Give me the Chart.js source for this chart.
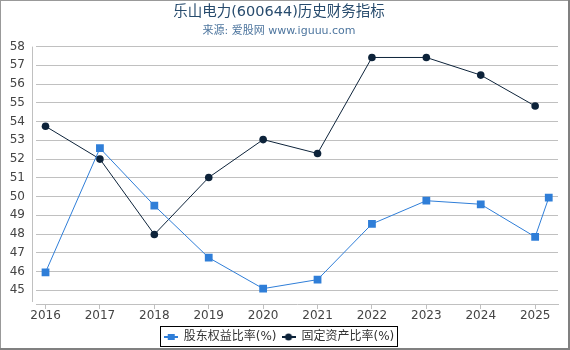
<!DOCTYPE html>
<html>
<head>
<meta charset="utf-8">
<script src="https://cdn.jsdelivr.net/npm/chart.js@4.4.1/dist/chart.umd.min.js"></script>
<style>
  html, body { margin: 0; padding: 0; background: #fff; }
  canvas { display: block; }
</style>
</head>
<body>
<canvas id="chart" width="570" height="350"></canvas>
<script>
// values
const equityYears      = [2016, 2017, 2018, 2019, 2020, 2021, 2022, 2023, 2024, 2025, 2025.25];
const equityRatio      = [45.96, 52.58, 49.52, 46.74, 45.09, 45.57, 48.54, 49.78, 49.59, 47.85, 49.94];
const fixedYears       = [2016, 2017, 2018, 2019, 2020, 2021, 2022, 2023, 2024, 2025];
const fixedAssetRatio  = [53.75, 52.00, 47.98, 51.02, 53.04, 52.30, 57.42, 57.42, 56.48, 54.83];
const xTickValues      = [2016, 2017, 2018, 2019, 2020, 2021, 2022, 2023, 2024, 2025];
const xTickLabels      = ['2016', '2017', '2018', '2019', '2020', '2021', '2022', '2023', '2024', '2025'];
const yTickValues      = [45, 46, 47, 48, 49, 50, 51, 52, 53, 54, 55, 56, 57, 58];
const seriesNames      = ['股东权益比率(%)', '固定资产比率(%)'];

const FONT      = '"DejaVu Sans", "Noto Sans CJK SC", sans-serif';
const BLUE      = '#2f7ed8';
const DARK      = '#0d233a';
const GRID      = '#c0c0c0';

const toPoints = (xs, ys) => xs.map((x, i) => ({x: x, y: ys[i]}));

// little legend icon: a line with the marker in the middle
function legendIcon(color, shape) {
    const c   = document.createElement('canvas');
    c.width   = 14;
    c.height  = 10;
    const ctx = c.getContext('2d');
    ctx.strokeStyle = color;
    ctx.lineWidth   = 2;
    ctx.beginPath();
    ctx.moveTo(0, 5);
    ctx.lineTo(14, 5);
    ctx.stroke();
    ctx.fillStyle = color;
    if (shape === 'rect') {
        ctx.fillRect(4, 2, 7, 6);
    } else {
        ctx.beginPath();
        ctx.arc(7, 5, 3.5, 0, Math.PI * 2);
        ctx.fill();
    }
    return c;
}

const icons = [legendIcon(BLUE, 'rect'), legendIcon(DARK, 'circle')];

const framePlugin = {
    id: 'frame',
    afterDraw(chart) {
        const ctx  = chart.ctx;
        const area = chart.chartArea;
        ctx.save();
        // y axis line, a bit left of the grid
        ctx.strokeStyle = GRID;
        ctx.lineWidth   = 1;
        ctx.beginPath();
        ctx.moveTo(32.5, area.top);
        ctx.lineTo(32.5, area.bottom - 2);
        ctx.stroke();
        // legend box
        const boxes = chart.legend.legendHitBoxes;
        if (boxes && boxes.length) {
            const first = boxes[0];
            const last  = boxes[boxes.length - 1];
            const left  = Math.round(first.left) - 3.5;
            const right = Math.round(last.left + last.width) + 3.5;
            const top   = 326.5;
            const bot   = 346.5;
            ctx.strokeStyle = '#000';
            ctx.strokeRect(left, top, right - left, bot - top);
        }
        // page frame
        ctx.fillStyle = '#999';
        ctx.fillRect(0, 0, 570, 1);
        ctx.fillRect(0, 0, 1, 350);
        ctx.fillStyle = '#808080';
        ctx.fillRect(568, 0, 2, 350);
        ctx.fillRect(0, 348, 570, 2);
        ctx.restore();
    }
};

new Chart(document.getElementById('chart'), {
    type: 'line',
    data: {
        datasets: [{
            label           : seriesNames[0],
            data            : toPoints(equityYears, equityRatio),
            borderColor     : BLUE,
            backgroundColor : BLUE,
            borderWidth     : 1,
            pointStyle      : 'rect',
            pointRadius     : 5.5,
            pointBorderWidth: 0,
            tension         : 0
        }, {
            label           : seriesNames[1],
            data            : toPoints(fixedYears, fixedAssetRatio),
            borderColor     : DARK,
            backgroundColor : DARK,
            borderWidth     : 1,
            pointStyle      : 'circle',
            pointRadius     : 3.8,
            pointBorderWidth: 0,
            tension         : 0
        }]
    },
    options: {
        responsive: false,
        animation : false,
        layout    : {padding: {left: 0, right: 12, top: 0, bottom: -3}},
        plugins   : {
            title: {
                display: true,
                text   : '乐山电力(600644)历史财务指标',
                color  : '#274b6d',
                font   : {family: FONT, size: 14.5, weight: 'normal'},
                padding: {top: 4, bottom: 3}
            },
            subtitle: {
                display: true,
                text   : '来源: 爱股网 www.iguuu.com',
                color  : '#4d759e',
                font   : {family: FONT, size: 11, weight: 'normal'},
                padding: {top: 0, bottom: 9}
            },
            legend: {
                position: 'bottom',
                labels  : {
                    usePointStyle  : true,
                    pointStyleWidth: 14,
                    padding        : 5,
                    color          : '#333',
                    font           : {family: FONT, size: 12},
                    generateLabels : chart => chart.data.datasets.map((ds, i) => ({
                        text        : ds.label,
                        pointStyle  : icons[i],
                        fillStyle   : ds.borderColor,
                        strokeStyle : ds.borderColor,
                        fontColor   : '#333',
                        lineWidth   : 0,
                        hidden      : false,
                        datasetIndex: i
                    }))
                }
            },
            tooltip: {enabled: false}
        },
        scales: {
            x: {
                type : 'linear',
                min  : 2015.825,
                max  : 2025.42,
                afterBuildTicks: scale => { scale.ticks = xTickValues.map(v => ({value: v})); },
                afterFit: scale => { scale.height = 22; },
                ticks: {
                    color   : '#444',
                    font    : {family: FONT, size: 12},
                    padding : 0,
                    maxRotation: 0,
                    callback: (v) => xTickLabels[xTickValues.indexOf(v)]
                },
                grid  : {drawOnChartArea: false, drawTicks: true, tickLength: 5, color: GRID},
                border: {display: true, color: GRID}
            },
            y: {
                type : 'linear',
                min  : 44.27,
                max  : 58,
                afterBuildTicks: scale => { scale.ticks = yTickValues.map(v => ({value: v})); },
                afterFit: scale => { scale.width = 36; },
                ticks: {
                    color  : '#444',
                    font   : {family: FONT, size: 12},
                    padding: 11
                },
                grid  : {drawTicks: false, color: GRID},
                border: {display: false}
            }
        }
    },
    plugins: [framePlugin]
});
</script>
</body>
</html>
